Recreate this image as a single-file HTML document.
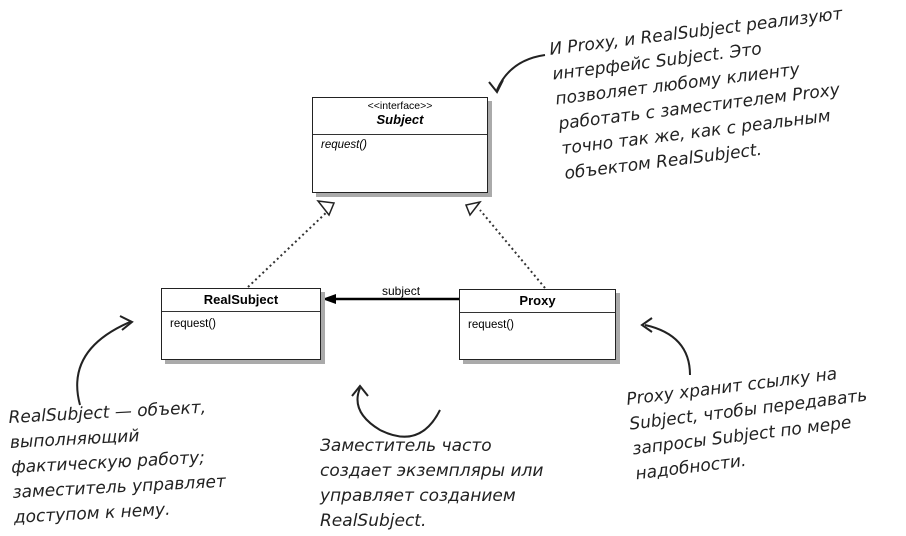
<!DOCTYPE html>
<html><head><meta charset="utf-8"><style>
body{margin:0;width:906px;height:536px;background:#fff;position:relative;overflow:hidden;font-family:"Liberation Sans",sans-serif}
.box{position:absolute;border:1.5px solid #222;background:#fff;box-shadow:4px 4px 0 #aaa}
.hd{border-bottom:1.3px solid #333;text-align:center;font-weight:bold;font-size:13px}
.m{font-size:11.5px;padding:6px 8px}
.h{position:absolute;font-family:"DejaVu Sans",sans-serif;font-style:italic;font-size:17px;line-height:25px;color:#222;white-space:nowrap;transform-origin:0 0}
</style></head><body>
<svg width="906" height="536" style="position:absolute;left:0;top:0">
<g stroke="#333" stroke-width="2" stroke-dasharray="2,3" fill="none">
<line x1="248" y1="287" x2="329" y2="210"/>
<line x1="545" y1="288" x2="480" y2="210"/>
</g>
<g stroke="#222" stroke-width="1.5" fill="#fff">
<polygon points="318,201 334,203 329,215"/>
<polygon points="480,202 466,205 470,215"/>
</g>
<line x1="459" y1="299" x2="330" y2="299" stroke="#000" stroke-width="2.5"/>
<polygon points="322,299 336,294 336,304" fill="#000"/>
<g stroke="#222" stroke-width="2" fill="none">
<path d="M545 55 Q510 60 497 90"/><path d="M489 82 L497 92 L503 80"/>
<path d="M80 405 Q65 350 130 322"/><path d="M120 316 L132 322 L122 330"/>
<path d="M440 410 Q420 450 380 430 Q350 412 360 388"/><path d="M352 396 L360 386 L368 396"/>
<path d="M690 375 Q690 335 645 325"/><path d="M652 318 L642 325 L652 332"/>
</g>
</svg>
<div class="box" style="left:312px;top:97px;width:174px;height:94px">
<div class="hd" style="height:37px;font-weight:normal;font-size:10.5px;padding-top:2px;box-sizing:border-box">&lt;&lt;interface&gt;&gt;<br><b style="font-size:13px"><i>Subject</i></b></div>
<div class="m" style="font-style:italic;padding-top:4px">request()</div></div>
<div class="box" style="left:161px;top:288px;width:158px;height:70px">
<div class="hd" style="height:22px;line-height:22px">RealSubject</div><div class="m">request()</div></div>
<div class="box" style="left:459px;top:289px;width:155px;height:69px">
<div class="hd" style="height:22px;line-height:22px">Proxy</div><div class="m">request()</div></div>
<div style="position:absolute;left:382px;top:284px;font-size:12px">subject</div>
<div class="h" style="left:548px;top:38px;transform:rotate(-7deg)">И Proxy, и RealSubject реализуют<br>интерфейс Subject. Это<br>позволяет любому клиенту<br>работать с заместителем Proxy<br>точно так же, как с реальным<br>объектом RealSubject.</div>
<div class="h" style="left:8px;top:406px;transform:rotate(-3deg)">RealSubject — объект,<br>выполняющий<br>фактическую работу;<br>заместитель управляет<br>доступом к нему.</div>
<div class="h" style="left:320px;top:434px">Заместитель часто<br>создает экземпляры или<br>управляет созданием<br>RealSubject.</div>
<div class="h" style="left:625px;top:388px;transform:rotate(-7deg)">Proxy хранит ссылку на<br>Subject, чтобы передавать<br>запросы Subject по мере<br>надобности.</div>
</body></html>
